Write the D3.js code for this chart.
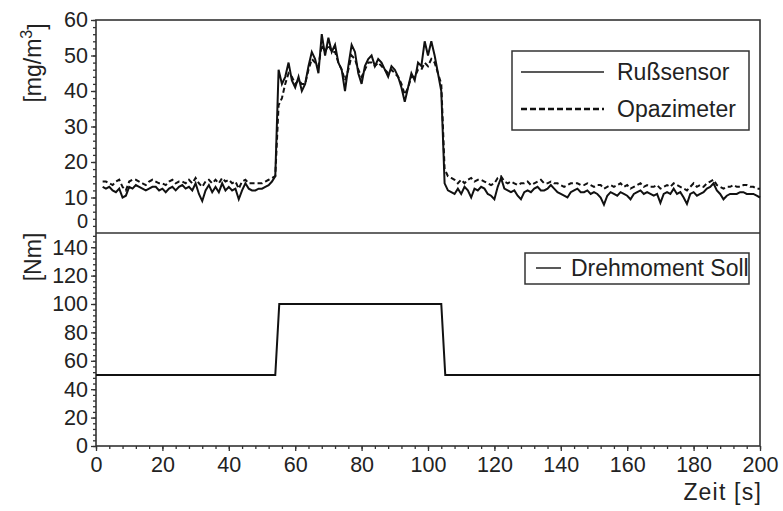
<!DOCTYPE html>
<html>
<head>
<meta charset="utf-8">
<script src="https://d3js.org/d3.v7.min.js"></script>
<style>
  body{margin:0;background:#fff;}
  text{font-family:"Liberation Sans",Arial,sans-serif;fill:#222;}
  .axis path{display:none;}
  .axis line{stroke:#333;stroke-width:1.3;}
  .axis text{font-size:21.5px;fill:#222;font-family:"Liberation Sans",Arial,sans-serif;}
</style>
</head>
<body>
<div class="visHolder"></div>
<script>
const w=783,h=511;

// time axis in seconds (top panel sampled every 1 s from 2 to 200)
const zeit=d3.range(2,201);

// Rußsensor [mg/m3]
const russsensor=[
  13,12.5,13,12,11.5,12.5,10,10.5,13,12.5,
  13.5,13,12.5,12,12.5,13,13,12,12.5,11.5,
  12.5,13,12,13,13.5,12.5,13,12,14,11,
  9,12,13.5,11.5,13,11.5,14,12,13,12,
  12.5,9.5,12,14,12.5,12,12,12.5,12.5,13,
  13.5,14.5,16,46,42,44,48,43,41,44,
  40,42,47,51,49,45,56,50,55,51,
  53,48,46,40,47,53,51,45,42,47,
  49,50,47,49,48,46,44,47,46,44,
  41,37,41,45,43,48,47,54,50,54,
  50,45,40,14,12,11.5,11,12.5,11,13,
  12,10,12.5,12,13,12.5,11,10.5,9.5,13,
  15.5,12.5,12,11.5,12,10.5,9.5,11.5,12,11.5,
  12.5,13,12,12,12.5,13.5,12.5,11.5,11,10.5,
  10,11.5,12,12.5,11.5,11.5,12,11,11.5,11,
  10,8,10.5,11.5,11,10.5,11.5,11,10.5,9.5,
  11,11.5,12,11,11.5,11,10.5,11,8.5,11,
  11.5,11,12.5,11,11.5,10,8.2,11,11.5,10.5,
  11,11.5,12.5,13,14,12,11,9.5,10.5,11,
  11,11,11.5,11.5,11,11,11,10.5,10
];

// Opazimeter [mg/m3]
const opazimeter=[
  14.5,14.5,14,13.5,14.5,15,13,12,14.5,15,
  15,14.5,14,13.5,14.5,15,14.5,14,14,13.5,
  14.5,15,14,14.5,14.5,14,15,14,15.5,14,
  13,14.5,15,14,15,14,15.5,14.5,15,14,
  14.5,12.5,14.5,15,14,14,14,14,14,14.5,
  15,15.5,16,36,38,42,45,44,42,43,
  42,42,46,49,48,47,53,51,53,51,
  51,48,46,43,46,50,49,46,44,46,
  48,48,47,48,47,46,45,46,45,44,
  42,39,41,44,44,46,46,48,47,49,
  48,45,42,18,16,15.5,15,14,15,14,
  15,15.5,14.5,15,15,14.5,14,13.5,14,15.5,
  16,14.5,14,14.5,14,13.5,14,14,14.5,13.5,
  14,14.5,15,14,14,14.5,14,14,13.5,13,
  13.5,14,14,14,13.5,13.5,14,13.5,13,13.5,
  13.5,12.5,13,13.5,13,13.5,14,13,13.5,12.5,
  13,13.5,14,13,13.5,13,13,13.5,12.5,13,
  13.5,13,14,13.5,13,12.5,12,13,14,13,
  13.5,13,14,14.5,15,13.5,13,12.5,13,13,
  13.5,13,13,13.5,13.5,13,13,12.5,12.5
];

// Drehmoment Soll [Nm]
const torqueZeit=[0,54,55.2,104,105.2,200];
const torqueSoll=[50,50,100,100,50,50];

const xTicks=[0,20,40,60,80,100,120,140,160,180,200];
const topTicks=[10,20,30,40,50,60];
const botTicks=[0,20,40,60,80,100,120,140];

const left=96,right=760,top1=20,mid=233,bot=446;

const svg=d3.select(".visHolder")
.append("svg")
.attr("width",w)
.attr("height",h);

const xScale=d3.scaleLinear().domain([0,200]).range([left,right]);
const yTop=d3.scaleLinear().domain([0,60]).range([mid,top1]);
const yBot=d3.scaleLinear().domain([0,150]).range([bot,mid]);

// minor ticks first, then majors
svg.append("g").attr("class","axis")
.attr("transform","translate(0,"+bot+")")
.call(d3.axisBottom(xScale).tickValues(d3.range(0,201,4)).tickSize(3).tickFormat(""));
svg.append("g").attr("class","axis")
.attr("transform","translate(0,"+bot+")")
.call(d3.axisBottom(xScale).tickValues(xTicks).tickSize(5).tickPadding(6).tickFormat(d3.format("d")));

svg.append("g").attr("class","axis")
.attr("transform","translate("+left+",0)")
.call(d3.axisLeft(yTop).tickValues(d3.range(2,61,2)).tickSize(3).tickFormat(""));
svg.append("g").attr("class","axis")
.attr("transform","translate("+left+",0)")
.call(d3.axisLeft(yTop).tickValues(topTicks).tickSize(5).tickPadding(3));

svg.append("g").attr("class","axis")
.attr("transform","translate("+left+",0)")
.call(d3.axisLeft(yBot).tickValues(d3.range(0,149,4)).tickSize(3).tickFormat(""));
svg.append("g").attr("class","axis")
.attr("transform","translate("+left+",0)")
.call(d3.axisLeft(yBot).tickValues(botTicks).tickSize(5).tickPadding(3));

// frames
svg.append("rect")
.attr("x",left).attr("y",top1)
.attr("width",right-left).attr("height",bot-top1)
.attr("fill","none").attr("stroke","#333").attr("stroke-width",1.6);
svg.append("line")
.attr("x1",left).attr("x2",right)
.attr("y1",mid).attr("y2",mid)
.attr("stroke","#333").attr("stroke-width",1.6);

// lines
const lineTop=d3.line().x((d,i)=>xScale(zeit[i])).y(d=>yTop(d));
svg.append("path")
.datum(opazimeter)
.attr("d",lineTop)
.attr("fill","none").attr("stroke","#111")
.attr("stroke-width",2).attr("stroke-dasharray","5,3");
svg.append("path")
.datum(russsensor)
.attr("d",lineTop)
.attr("fill","none").attr("stroke","#111")
.attr("stroke-width",2);

const lineBot=d3.line().x((d,i)=>xScale(torqueZeit[i])).y(d=>yBot(d));
svg.append("path")
.datum(torqueSoll)
.attr("d",lineBot)
.attr("fill","none").attr("stroke","#111")
.attr("stroke-width",2);

// legends
const leg1=svg.append("g");
leg1.append("rect")
.attr("x",512).attr("y",51).attr("width",237).attr("height",79)
.attr("fill","#fff").attr("stroke","#333").attr("stroke-width",1.5);
leg1.append("line").attr("x1",521).attr("x2",604).attr("y1",72).attr("y2",72)
.attr("stroke","#222").attr("stroke-width",1.5);
leg1.append("line").attr("x1",521).attr("x2",604).attr("y1",109).attr("y2",109)
.attr("stroke","#111").attr("stroke-width",2.5).attr("stroke-dasharray","6,3");
leg1.append("text").attr("x",617).attr("y",72).attr("dy","0.35em")
.style("font-size","23px").text("Rußsensor");
leg1.append("text").attr("x",617).attr("y",109).attr("dy","0.35em")
.style("font-size","23px").text("Opazimeter");

const leg2=svg.append("g");
leg2.append("rect")
.attr("x",525).attr("y",253).attr("width",224).attr("height",31)
.attr("fill","#fff").attr("stroke","#333").attr("stroke-width",1.5);
leg2.append("line").attr("x1",536).attr("x2",561).attr("y1",268).attr("y2",268)
.attr("stroke","#222").attr("stroke-width",1.5);
leg2.append("text").attr("x",571).attr("y",268).attr("dy","0.35em")
.style("font-size","23px").text("Drehmoment Soll");

// axis titles
const t1=svg.append("text")
.attr("transform","translate(41,63) rotate(-90)")
.attr("text-anchor","middle")
.style("font-size","23px");
t1.append("tspan").text("[mg/m");
t1.append("tspan").attr("dy","-0.55em").style("font-size","16px").text("3");
t1.append("tspan").attr("dy","0.55em").text("]");

svg.append("text")
.attr("transform","translate(41,257) rotate(-90)")
.attr("text-anchor","middle")
.style("font-size","23px")
.text("[Nm]");

svg.append("text")
.attr("x",762).attr("y",500)
.attr("text-anchor","end")
.style("font-size","23px")
.style("letter-spacing","1.2px")
.text("Zeit [s]");

// 0 of the upper panel, lifted so it clears the 140 of the lower panel
svg.append("text")
.attr("x",left-8)
.attr("y",yTop(0)-5)
.attr("text-anchor","end")
.attr("fill","#222")
.attr("font-size",20)
.text("0");
</script>
</body>
</html>
